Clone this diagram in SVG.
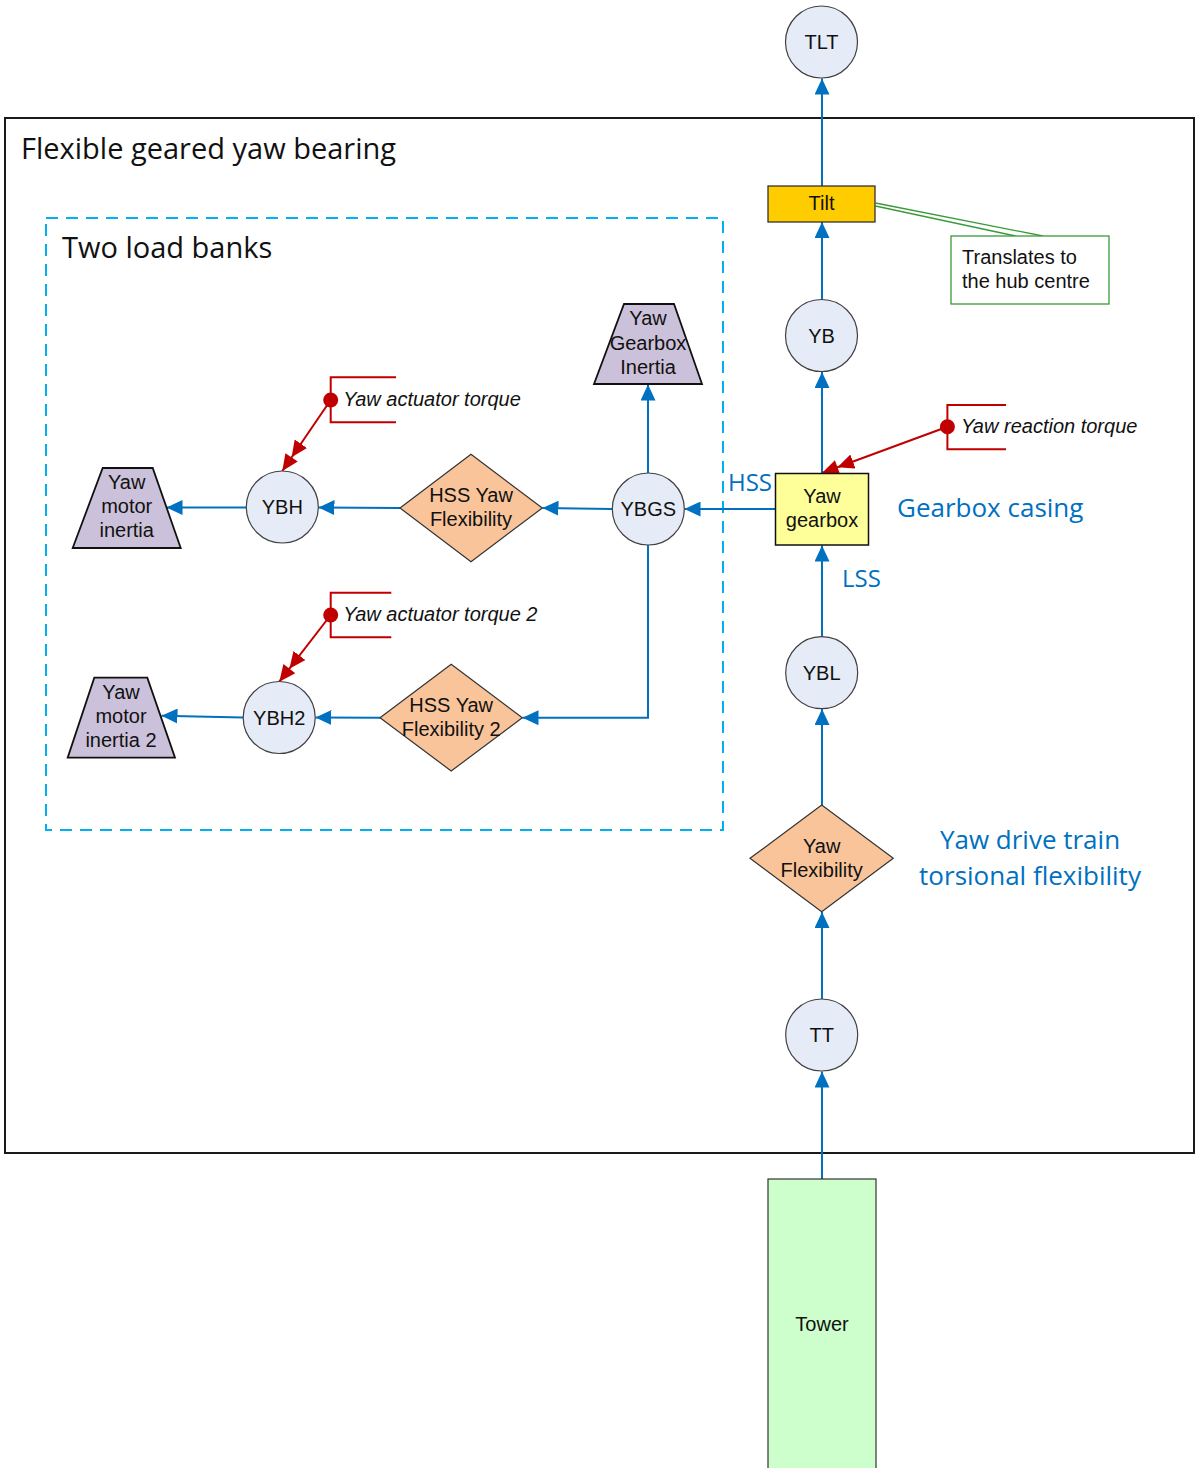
<svg xmlns="http://www.w3.org/2000/svg" width="1198" height="1468" viewBox="0 0 1198 1468">
<style>
.circ{fill:#e6ecf7;stroke:#404040;stroke-width:1.2}
.dia{fill:#f9c49a;stroke:#333;stroke-width:1.2}
.trap{fill:#ccc1da;stroke:#111;stroke-width:1.8}
.lbl{font-family:"Liberation Sans",Arial,sans-serif;font-size:20px;fill:#111;text-anchor:middle}
.ital{font-family:"Liberation Sans",Arial,sans-serif;font-size:20px;font-style:italic;fill:#111}
.big{font-family:"Open Sans","Noto Sans",sans-serif;font-size:29px;fill:#111}
.blue{font-family:"Open Sans","Noto Sans",sans-serif;fill:#0070c0}
.conn{fill:none;stroke:#0070c0;stroke-width:2;marker-end:url(#ab)}
.sig{fill:none;stroke:#c00000;stroke-width:2;marker-end:url(#ar)}
.brk{fill:none;stroke:#c00000;stroke-width:2}
.dot{fill:#c00000}
.grn{fill:none;stroke:#3a9a3a;stroke-width:1.3}
</style>
<defs>
<marker id="ab" markerUnits="userSpaceOnUse" viewBox="0 0 16 15" markerWidth="16" markerHeight="15" refX="16" refY="7.5" orient="auto">
<path d="M0,0 L16,7.5 L0,15 z" fill="#0070c0"/>
</marker>
<marker id="ar" markerUnits="userSpaceOnUse" viewBox="0 0 33 15" markerWidth="33" markerHeight="15" refX="33" refY="7.5" orient="auto">
<path d="M0,0 L16.5,7.5 L0,15 z M16.5,0 L33,7.5 L16.5,15 z" fill="#c00000"/>
</marker>
</defs>
<rect x="0" y="0" width="1198" height="1468" fill="#fff"/>

<g id="frame">
<rect x="5" y="118" width="1189" height="1035" fill="none" stroke="#1a1a1a" stroke-width="2"/>
<text class="big" x="21" y="159">Flexible geared yaw bearing</text>
</g>
<g id="loadbanks">
<rect x="46" y="218" width="677" height="612" fill="none" stroke="#00b0f0" stroke-width="2" stroke-dasharray="12,8"/>
<text class="big" x="62" y="258">Two load banks</text>
</g>

<g id="connectors">
<path class="conn" d="M822,1179 L822,1071.5"/>
<path class="conn" d="M822,999 L822,912"/>
<path class="conn" d="M822,805 L822,709"/>
<path class="conn" d="M822,637 L822,545.5"/>
<path class="conn" d="M822,473 L822,372"/>
<path class="conn" d="M822,300 L822,222"/>
<path class="conn" d="M822,186 L822,78.5"/>
<path class="conn" d="M775,509 L684.5,509"/>
<path class="conn" d="M648,473 L648,384.5"/>
<path class="conn" d="M612,509 L542.5,508"/>
<path class="conn" d="M400,508 L318.5,507.5"/>
<path class="conn" d="M246,507.5 L166.5,507.5"/>
<path class="conn" d="M648,545 L648,717.7 L522.5,717.7"/>
<path class="conn" d="M380,717.7 L315.5,717.5"/>
<path class="conn" d="M243,717.5 L161.5,715.7"/>
<path class="sig" d="M330.7,400 L282.3,471"/>
<path class="sig" d="M330.7,615 L279.3,681.7"/>
<path class="sig" d="M947.4,426.7 L822,473"/>
<path class="grn" d="M875.5,203 L1043,236 M875.5,206 L1015.5,236"/>
</g>

<g id="TLT"><circle class="circ" cx="821.5" cy="42" r="36"/><text class="lbl" x="821.5" y="49">TLT</text></g>
<g id="Tilt"><rect x="768" y="186" width="107" height="36" fill="#ffcc00" stroke="#333" stroke-width="1.3"/><text class="lbl" x="821.5" y="210" font-size="19">Tilt</text></g>
<g id="note"><rect x="951" y="236" width="158" height="68" fill="#fff" stroke="#3a9a3a" stroke-width="1.3"/>
<text class="ital" style="font-style:normal" x="962" y="264">Translates to</text>
<text class="ital" style="font-style:normal" x="962" y="288">the hub centre</text></g>
<g id="YB"><circle class="circ" cx="821.5" cy="335.5" r="36"/><text class="lbl" x="821.5" y="342.5">YB</text></g>

<g id="YawReactionTorque">
<path class="brk" d="M1006,405 L947.4,405 L947.4,449.3 L1006,449.3"/>
<circle class="dot" cx="947.4" cy="426.7" r="7.5"/>
<text class="ital" x="961" y="433">Yaw reaction torque</text>
</g>

<g id="YawGearbox"><rect x="775.5" y="473.5" width="93" height="71.5" fill="#ffff99" stroke="#111" stroke-width="1.5"/>
<text class="lbl" x="822" y="503">Yaw</text><text class="lbl" x="822" y="527">gearbox</text></g>

<text class="blue" x="728" y="491" font-size="24">HSS</text>
<text class="blue" x="842" y="587" font-size="24">LSS</text>
<text class="blue" x="897" y="517" font-size="26">Gearbox casing</text>
<text class="blue" x="1030" y="849" font-size="26" text-anchor="middle">Yaw drive train</text>
<text class="blue" x="1030" y="885" font-size="26" text-anchor="middle">torsional flexibility</text>

<g id="YBL"><circle class="circ" cx="821.7" cy="672.7" r="36"/><text class="lbl" x="821.7" y="679.7">YBL</text></g>
<g id="YawFlexibility"><path class="dia" d="M750,858.3 L821.7,805 L893.3,858.3 L821.7,911.7 z"/>
<text class="lbl" x="821.7" y="853">Yaw</text><text class="lbl" x="821.7" y="877">Flexibility</text></g>
<g id="TT"><circle class="circ" cx="821.7" cy="1035" r="36"/><text class="lbl" x="821.7" y="1042">TT</text></g>
<g id="Tower"><rect x="768" y="1179" width="108" height="300" fill="#ccffcc" stroke="#333" stroke-width="1.2"/><text class="lbl" x="822" y="1331">Tower</text></g>

<g id="YBGS"><circle class="circ" cx="648.3" cy="509" r="36"/><text class="lbl" x="648.3" y="516">YBGS</text></g>
<g id="YawGearboxInertia"><path class="trap" d="M624,304 L674,304 L702,384 L594,384 z"/>
<text class="lbl" x="648" y="325">Yaw</text><text class="lbl" x="648" y="350">Gearbox</text><text class="lbl" x="648" y="374">Inertia</text></g>

<g id="HSSYawFlexibility"><path class="dia" d="M400,508 L471,454.3 L542.3,508 L471,561.7 z"/>
<text class="lbl" x="471" y="502">HSS Yaw</text><text class="lbl" x="471" y="526">Flexibility</text></g>
<g id="YBH"><circle class="circ" cx="282.3" cy="507" r="36"/><text class="lbl" x="282.3" y="514">YBH</text></g>
<g id="YawMotorInertia"><path class="trap" d="M102.7,468 L152.7,468 L180.7,548 L72.7,548 z"/>
<text class="lbl" x="126.7" y="489.3">Yaw</text><text class="lbl" x="126.7" y="513.3">motor</text><text class="lbl" x="126.7" y="537.3">inertia</text></g>
<g id="YawActuatorTorque">
<path class="brk" d="M396,377.3 L330.7,377.3 L330.7,422.3 L396,422.3"/>
<circle class="dot" cx="330.7" cy="400" r="7.5"/>
<text class="ital" x="343.3" y="406">Yaw actuator torque</text>
</g>

<g id="HSSYawFlexibility2"><path class="dia" d="M380,717.7 L451.2,664.3 L522.3,717.7 L451.2,771 z"/>
<text class="lbl" x="451.2" y="711.7">HSS Yaw</text><text class="lbl" x="451.2" y="735.7">Flexibility 2</text></g>
<g id="YBH2"><circle class="circ" cx="279.2" cy="717.5" r="36"/><text class="lbl" x="279.2" y="724.5">YBH2</text></g>
<g id="YawMotorInertia2"><path class="trap" d="M94.3,677.7 L147.3,677.7 L175,757.7 L67.7,757.7 z"/>
<text class="lbl" x="121" y="699.3">Yaw</text><text class="lbl" x="121" y="723.3">motor</text><text class="lbl" x="121" y="747.3">inertia 2</text></g>
<g id="YawActuatorTorque2">
<path class="brk" d="M391.3,592.7 L330.7,592.7 L330.7,637.3 L391.3,637.3"/>
<circle class="dot" cx="330.7" cy="615" r="7.5"/>
<text class="ital" x="343.3" y="621">Yaw actuator torque 2</text>
</g>
</svg>
